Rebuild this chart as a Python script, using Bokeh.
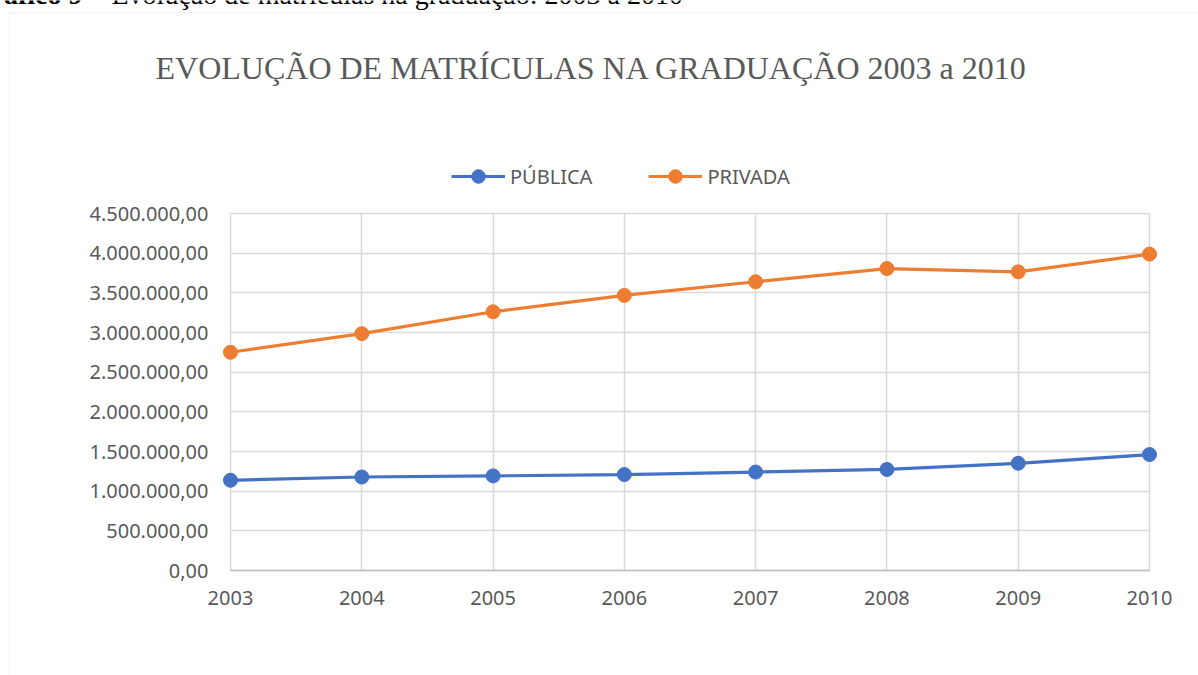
from bokeh.plotting import figure
from bokeh.models import (Range1d, FixedTicker, Label, Legend, LegendItem,
                          BoxAnnotation)
from bokeh.embed import file_html
from bokeh.resources import INLINE

# ---- data ----
years = [2003, 2004, 2005, 2006, 2007, 2008, 2009, 2010]
publica = [1137119, 1178328, 1192189, 1209304, 1240968, 1273965, 1351168, 1461696]
privada = [2750652, 2985405, 3260967, 3467342, 3639413, 3806091, 3764728, 3987424]
series_names = ["PÚBLICA", "PRIVADA"]
y_ticks = [0, 500000, 1000000, 1500000, 2000000, 2500000, 3000000, 3500000, 4000000, 4500000]
y_tick_labels = ["0,00", "500.000,00", "1.000.000,00", "1.500.000,00", "2.000.000,00",
                 "2.500.000,00", "3.000.000,00", "3.500.000,00", "4.000.000,00",
                 "4.500.000,00"]
x_tick_labels = [str(y) for y in years]
title_text = "EVOLUÇÃO DE MATRÍCULAS NA GRADUAÇÃO 2003 a 2010"
caption_bold = "Gráfico 9"
caption_rest = "– Evolução de matrículas na graduação: 2003 a 2010"

# ---- layout (pixels) ----
W, H = 1198, 675
PL, PR, PT, PB = 230, 1149, 213, 570   # plot area edges in the page

BLUE = "#4472C4"
ORANGE = "#ED7D31"
TXT = "#595959"
GRID = "#d9d9d9"
SANS = "Noto Sans"
SERIF = "Liberation Serif"

# ranges chosen so the whole canvas is the frame and the plot area sits at PL..PR / PT..PB
x0, x1 = years[0], years[-1]
y0, y1 = y_ticks[0], y_ticks[-1]
ux = (x1 - x0) / (PR - PL)
uy = (y1 - y0) / (PB - PT)
xr = Range1d(x0 - PL * ux, x1 + (W - PR) * ux)
yr = Range1d(y0 - (H - PB) * uy, y1 + PT * uy)

p = figure(width=W, height=H, output_backend="svg", toolbar_location=None,
           x_range=xr, y_range=yr, min_border=0, min_border_left=0,
           min_border_right=0, min_border_top=0, min_border_bottom=0)
p.outline_line_color = None
p.background_fill_color = "white"
p.border_fill_color = "white"

# axes, fixed at the plot area's edges
p.xaxis.fixed_location = y0
p.yaxis.fixed_location = x0
p.xaxis.bounds = (x0, x1)
p.yaxis.bounds = (y0, y1)
p.xaxis.ticker = FixedTicker(ticks=years)
p.xaxis.major_label_overrides = {y: l for y, l in zip(years, x_tick_labels)}
p.yaxis.ticker = FixedTicker(ticks=y_ticks)
p.yaxis.major_label_overrides = {t: l for t, l in zip(y_ticks, y_tick_labels)}
for ax in (p.xaxis[0], p.yaxis[0]):
    ax.major_tick_line_color = None
    ax.minor_tick_line_color = None
    ax.major_tick_out = 0
    ax.major_tick_in = 0
    ax.major_label_text_font = SANS
    ax.major_label_text_font_size = "20px"
    ax.major_label_text_color = TXT
p.yaxis.axis_line_color = None
p.yaxis.major_label_standoff = 22
p.xaxis.axis_line_color = "#bfbfbf"
p.xaxis.axis_line_width = 1.5
p.xaxis.major_label_standoff = 20

p.xgrid.ticker = FixedTicker(ticks=years)
p.ygrid.ticker = FixedTicker(ticks=y_ticks)
p.xgrid.bounds = (x0, x1)
p.ygrid.bounds = (y0, y1)
p.xgrid.cross_bounds = (y0, y1)
p.ygrid.cross_bounds = (x0, x1)
p.grid.grid_line_color = GRID
p.grid.grid_line_width = 1.5

# chart area border
p.add_layout(BoxAnnotation(left=9, right=W + 100, top=H - 12, bottom=-100,
                           left_units="screen", right_units="screen",
                           top_units="screen", bottom_units="screen",
                           fill_alpha=0, line_color=GRID, line_width=1.5,
                           level="underlay"))

# series
l1 = p.line(years, publica, line_color=BLUE, line_width=3.2)
c1 = p.scatter(years, publica, size=14, fill_color=BLUE, line_color=BLUE)
l2 = p.line(years, privada, line_color=ORANGE, line_width=3.2)
c2 = p.scatter(years, privada, size=14, fill_color=ORANGE, line_color=ORANGE)

legend = Legend(items=[LegendItem(label=series_names[0], renderers=[l1, c1]),
                       LegendItem(label=series_names[1], renderers=[l2, c2])],
                location=(451, H - 159 - 34), orientation="horizontal",
                glyph_width=54, glyph_height=34, label_standoff=5, spacing=56,
                padding=0, margin=0, border_line_color=None,
                background_fill_alpha=0, label_text_font=SANS,
                label_text_font_size="20px", label_text_color=TXT)
p.add_layout(legend, "center")

# title
p.add_layout(Label(x=591, y=H - 67, x_units="screen", y_units="screen", text=title_text,
                   text_font=SERIF, text_font_size="32px", text_color=TXT,
                   text_align="center", text_baseline="alphabetic"))

# caption (cut off at top of page, as in the source)
p.add_layout(Label(x=82, y=H + 6, x_units="screen", y_units="screen", text=caption_bold,
                   text_font=SERIF, text_font_size="28px", text_font_style="bold",
                   text_color="black", text_align="right", text_baseline="alphabetic"))
p.add_layout(Label(x=90, y=H + 6, x_units="screen", y_units="screen", text=caption_rest,
                   text_font=SERIF, text_font_size="28px", text_color="black",
                   text_align="left", text_baseline="alphabetic"))

open("out.html", "w").write(file_html(p, INLINE))
